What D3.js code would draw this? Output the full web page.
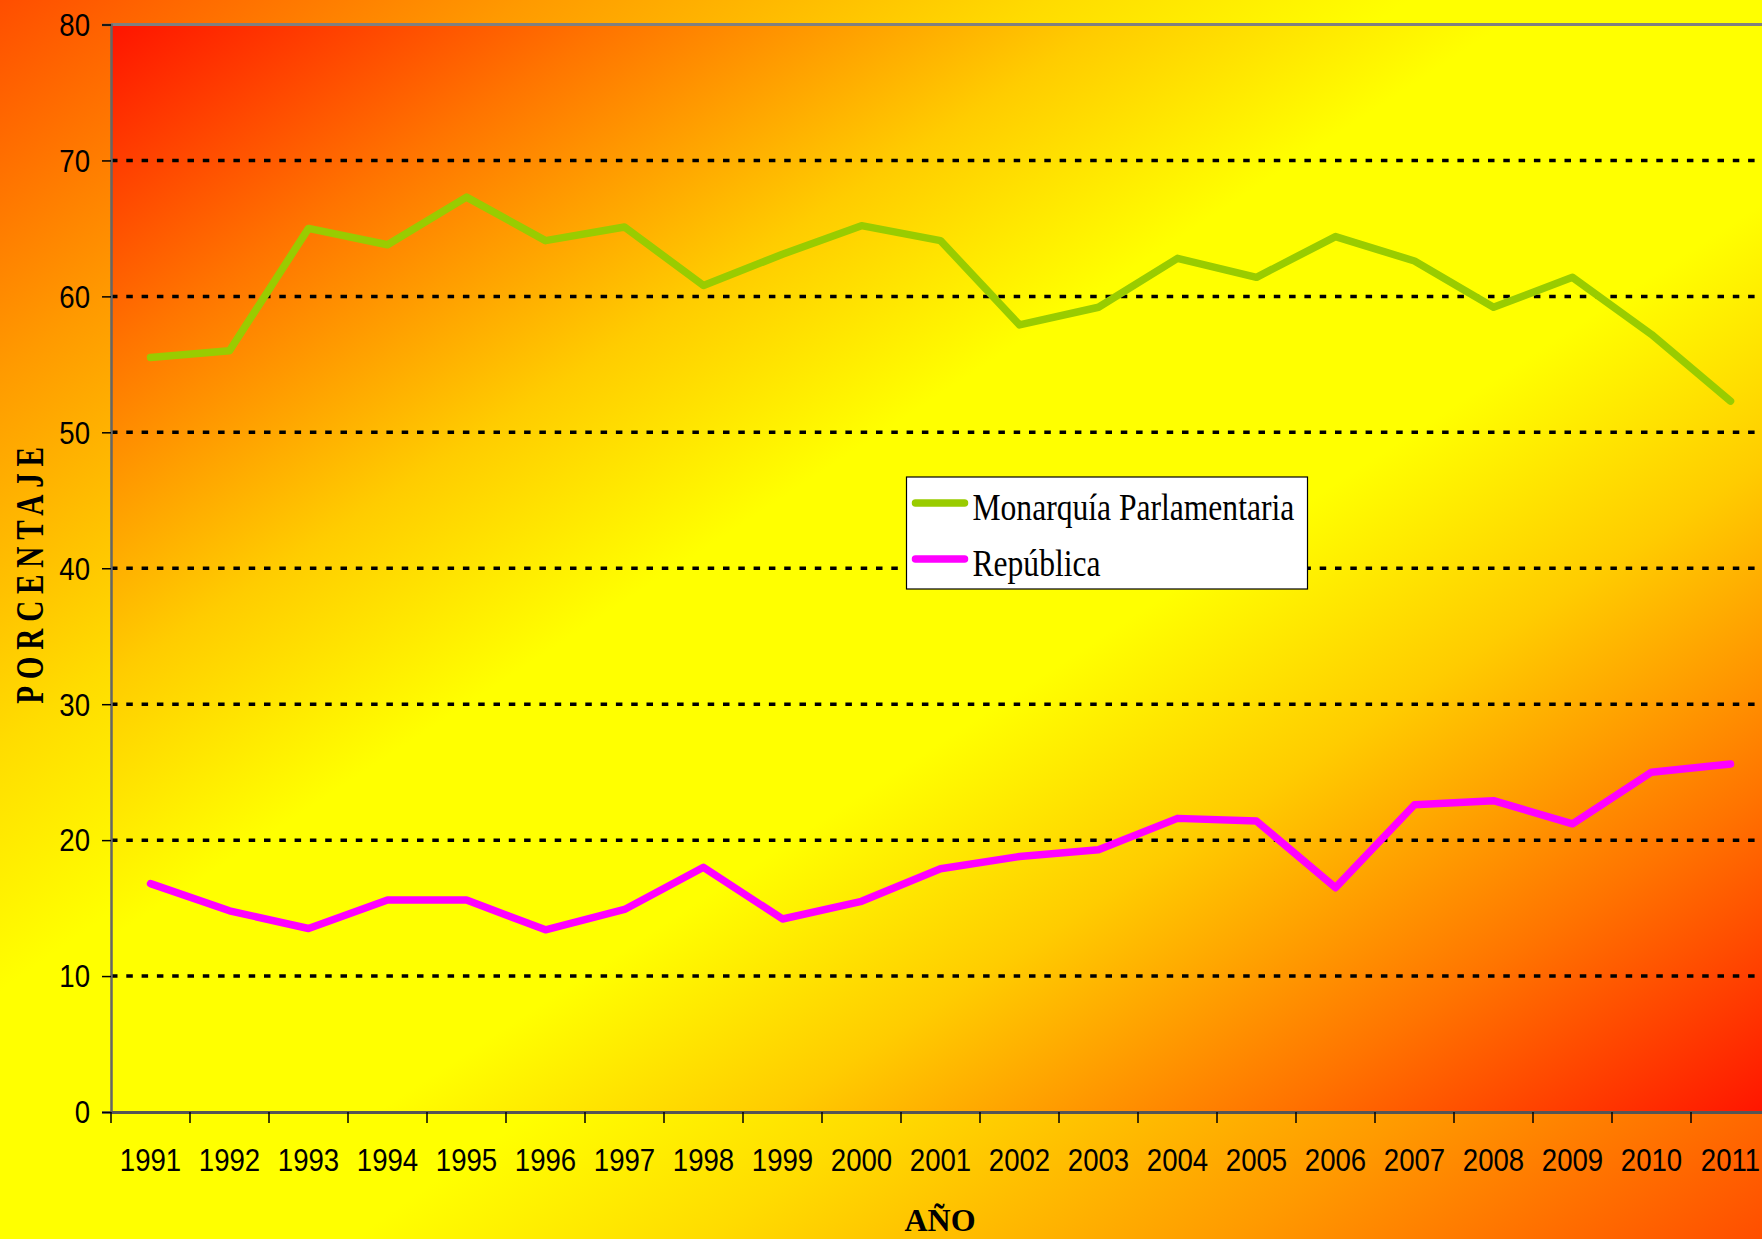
<!DOCTYPE html>
<html>
<head>
<meta charset="utf-8" />
<title>Monarquía vs República</title>
<script src="https://d3js.org/d3.v7.min.js"></script>
<style>
    body { margin: 0; overflow: hidden; }
    .tick-label { font-family: "Liberation Sans", Arial, sans-serif; font-size: 31px; fill: #000; }
    .grid line { stroke: #000; stroke-width: 3.5; stroke-dasharray: 6.5 8.8; }
    .serif { font-family: "Liberation Serif", "Times New Roman", serif; fill: #000; }
</style>
</head>
<body>
<script>
    var years = [1991, 1992, 1993, 1994, 1995, 1996, 1997, 1998, 1999, 2000, 2001,
                 2002, 2003, 2004, 2005, 2006, 2007, 2008, 2009, 2010, 2011];
    var monarquia = [55.5, 56.0, 65.0, 63.8, 67.3, 64.1, 65.1, 60.8, 63.1, 65.2, 64.1,
                     57.9, 59.2, 62.8, 61.4, 64.4, 62.6, 59.2, 61.4, 57.2, 52.3];
    var republica = [16.8, 14.8, 13.5, 15.6, 15.6, 13.4, 14.9, 18.0, 14.2, 15.5, 17.9,
                     18.8, 19.3, 21.6, 21.4, 16.5, 22.6, 22.9, 21.2, 25.0, 25.6];
    var yTicks = [0, 10, 20, 30, 40, 50, 60, 70, 80];
    var seriesNames = ["Monarquía Parlamentaria", "República"];
    var seriesColors = ["#99cc00", "#ff00ff"];

    var W = 1762, H = 1239;
    var margin = { top: 24.5, left: 111 };
    var width = 1659, height = 1087.5;

    var svg = d3.select("body").append("svg")
        .attr("width", W)
        .attr("height", H);

    var defs = svg.append("defs");
    function fire(id, stops) {
        var g = defs.append("linearGradient").attr("id", id)
            .attr("x1", 0).attr("y1", 0).attr("x2", 1).attr("y2", 1);
        stops.forEach(function (s) {
            g.append("stop").attr("offset", s[0]).attr("stop-color", s[1]);
        });
    }
    fire("outerBg", [[0, "#ff4e00"], [0.15, "#ff9a00"], [0.3, "#ffdc00"], [0.4, "#ffff00"],
                     [0.6, "#ffff00"], [0.7, "#ffdc00"], [0.85, "#ff9a00"], [1, "#ff4e00"]]);
    fire("plotBg", [[0, "#ff1400"], [0.15, "#ff7400"], [0.3, "#ffcc00"], [0.42, "#ffff00"],
                    [0.58, "#ffff00"], [0.7, "#ffcc00"], [0.85, "#ff7400"], [1, "#ff1400"]]);

    svg.append("rect").attr("width", W).attr("height", H).attr("fill", "url(#outerBg)");

    var g = svg.append("g")
        .attr("transform", "translate(" + margin.left + "," + margin.top + ")");

    g.append("rect").attr("width", width).attr("height", height).attr("fill", "url(#plotBg)");

    var x = d3.scaleBand().domain(years).range([0, width]).padding(0);
    var y = d3.scaleLinear().domain([0, 80]).range([height, 0]);
    function cx(i) { return x(years[i]) + x.bandwidth() / 2; }

    // dotted gridlines
    g.append("g").attr("class", "grid")
        .selectAll("line")
        .data(yTicks.filter(function (t) { return t > 0 && t < 80; }))
        .enter().append("line")
        .attr("x1", 0).attr("x2", width)
        .attr("y1", function (d) { return y(d); })
        .attr("y2", function (d) { return y(d); });

    // top border at 80
    g.append("line")
        .attr("x1", 0).attr("x2", width).attr("y1", y(80)).attr("y2", y(80))
        .attr("stroke", "#808080").attr("stroke-width", 3);

    // y axis
    var yAxis = g.append("g")
        .call(d3.axisLeft(y).tickValues(yTicks).tickSize(9).tickPadding(0));
    yAxis.select(".domain").attr("stroke", "#666").attr("stroke-width", 2.5);
    yAxis.selectAll(".tick line").attr("stroke", "#000").attr("stroke-width", 1.5);
    yAxis.selectAll(".tick text")
        .attr("class", "tick-label")
        .attr("font-family", null).attr("font-size", null)
        .attr("x", -21 / 0.89)
        .attr("dy", "0.35em")
        .attr("transform", "scale(0.89,1)");

    // x axis
    var xAxis = g.append("g")
        .attr("transform", "translate(0," + height + ")")
        .call(d3.axisBottom(x).tickSize(0).tickPadding(0));
    xAxis.select(".domain").attr("stroke", "#555").attr("stroke-width", 3);
    xAxis.selectAll(".tick text")
        .attr("class", "tick-label")
        .attr("font-family", null).attr("font-size", null)
        .attr("y", 59.5).attr("dy", null)
        .attr("transform", "scale(0.89,1)");
    xAxis.selectAll(".tickmark")
        .data(years)
        .enter().append("line")
        .attr("x1", function (d) { return x(d); })
        .attr("x2", function (d) { return x(d); })
        .attr("y1", 0).attr("y2", 11)
        .attr("stroke", "#000").attr("stroke-width", 1.5);

    // series lines
    var line = d3.line()
        .x(function (d, i) { return cx(i); })
        .y(function (d) { return y(d); });

    [monarquia, republica].forEach(function (s, k) {
        g.append("path")
            .datum(s)
            .attr("d", line)
            .attr("fill", "none")
            .attr("stroke", seriesColors[k])
            .attr("stroke-width", 7.5)
            .attr("stroke-linejoin", "round")
            .attr("stroke-linecap", "round");
    });

    // legend
    var legend = svg.append("g").attr("transform", "translate(906.5,477)");
    legend.append("rect")
        .attr("width", 401).attr("height", 112)
        .attr("fill", "#fff").attr("stroke", "#000").attr("stroke-width", 1.2);
    seriesNames.forEach(function (name, k) {
        var row = legend.append("g").attr("transform", "translate(0," + (26 + k * 56) + ")");
        row.append("line")
            .attr("x1", 9).attr("x2", 58)
            .attr("stroke", seriesColors[k]).attr("stroke-width", 7.5)
            .attr("stroke-linecap", "round");
        row.append("text")
            .attr("class", "serif")
            .attr("transform", "translate(66,17) scale(0.81,1)")
            .attr("font-size", 39)
            .text(name);
    });

    // axis titles
    svg.append("text")
        .attr("class", "serif")
        .attr("x", 940).attr("y", 1231)
        .attr("text-anchor", "middle")
        .attr("font-size", 32).attr("font-weight", "bold")
        .text("AÑO");

    svg.append("text")
        .attr("class", "serif")
        .attr("transform", "translate(43,572) rotate(-90) scale(0.75,1)")
        .attr("text-anchor", "middle")
        .attr("font-size", 39).attr("font-weight", "bold")
        .attr("letter-spacing", 9)
        .text("PORCENTAJE");
</script>
</body>
</html>
